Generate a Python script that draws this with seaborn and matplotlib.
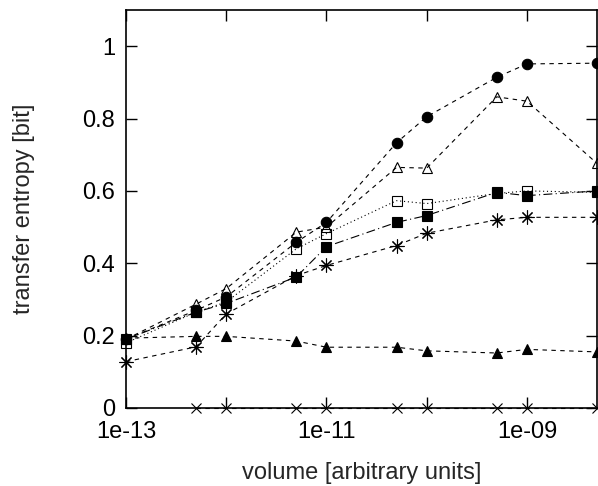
import numpy as np
import pandas as pd
import matplotlib
matplotlib.use("Agg")
import matplotlib.pyplot as plt
import matplotlib.ticker as mticker
import seaborn as sns

# volumes (arbitrary units)
volume = [1e-13, 5e-13, 1e-12, 5e-12, 1e-11, 5e-11, 1e-10, 5e-10, 1e-9, 5e-9]

# transfer entropy [bit] per series
te_circle_filled = [0.19, 0.27, 0.307, 0.458, 0.513, 0.733, 0.805, 0.914, 0.951, 0.953]
te_triangle_open = [0.19, 0.287, 0.33, 0.486, 0.50, 0.665, 0.663, 0.86, 0.848, 0.676]
te_square_open = [0.18, 0.265, 0.293, 0.44, 0.482, 0.573, 0.565, 0.593, 0.60, 0.596]
te_square_filled = [0.19, 0.265, 0.289, 0.362, 0.446, 0.513, 0.532, 0.596, 0.587, 0.60]
te_asterisk = [0.128, 0.169, 0.26, 0.366, 0.394, 0.449, 0.483, 0.52, 0.527, 0.527]
te_triangle_filled = [0.193, 0.198, 0.198, 0.185, 0.168, 0.168, 0.158, 0.152, 0.162, 0.155]
volume_zero = volume[1:]
te_zero = [0, 0, 0, 0, 0, 0, 0, 0, 0]

x_ticks = [1e-13, 1e-12, 1e-11, 1e-10, 1e-9]
x_tick_labels = ["1e-13", "", "1e-11", "", "1e-09"]
y_ticks = [0, 0.2, 0.4, 0.6, 0.8, 1.0]
y_tick_labels = ["0", "0.2", "0.4", "0.6", "0.8", "1"]

sns.set_style("ticks")
plt.rcParams['font.family'] = ['Liberation Sans', 'DejaVu Sans']

fig = plt.figure(figsize=(5.98, 4.86), dpi=100)
ax = fig.add_axes([126 / 598, 1 - 408 / 486, 471 / 598, 398 / 486])

dash = (0, (4, 4))
series = [
    (volume, te_circle_filled, 'o', 'black', dash, 7.5),
    (volume, te_triangle_open, '^', 'none', dash, 7),
    (volume, te_square_open, 's', 'none', (0, (1, 2.5)), 7),
    (volume, te_square_filled, 's', 'black', (0, (8, 3, 1, 3)), 7),
    (volume, te_asterisk, (8, 2, 0), 'black', dash, 10),
    (volume, te_triangle_filled, '^', 'black', dash, 7),
    (volume_zero, te_zero, 'x', 'black', dash, 7),
]

for xs, ys, mk, fc, ls, ms in series:
    df = pd.DataFrame({'volume': xs, 'te': ys})
    sns.lineplot(data=df, x='volume', y='te', ax=ax, color='black',
                 linewidth=0.8, linestyle=ls, marker=mk, markersize=ms,
                 markerfacecolor=fc, markeredgecolor='black',
                 markeredgewidth=0.8, clip_on=False, zorder=3)

ax.set_xscale('log')
ax.set_xlim(1e-13, 5e-9)
ax.set_ylim(0, 1.1)
ax.xaxis.set_major_locator(mticker.FixedLocator(x_ticks))
ax.xaxis.set_minor_locator(mticker.NullLocator())
ax.set_xticklabels(x_tick_labels)
ax.set_yticks(y_ticks)
ax.set_yticklabels(y_tick_labels)

for side in ['top', 'right', 'bottom', 'left']:
    ax.spines[side].set_visible(True)
    ax.spines[side].set_linewidth(1.2)
    ax.spines[side].set_color('black')
    ax.spines[side].set_zorder(4)

ax.tick_params(axis='both', which='major', direction='in', length=8, width=1,
               top=True, right=True, labelsize=17, colors='black')
ax.tick_params(axis='y', pad=8)
ax.tick_params(axis='x', pad=9)

ax.set_xlabel('volume [arbitrary units]', fontsize=17, labelpad=14)
ax.set_ylabel('transfer entropy [bit]', fontsize=17, labelpad=34)

plt.savefig('out.png', dpi=100)
